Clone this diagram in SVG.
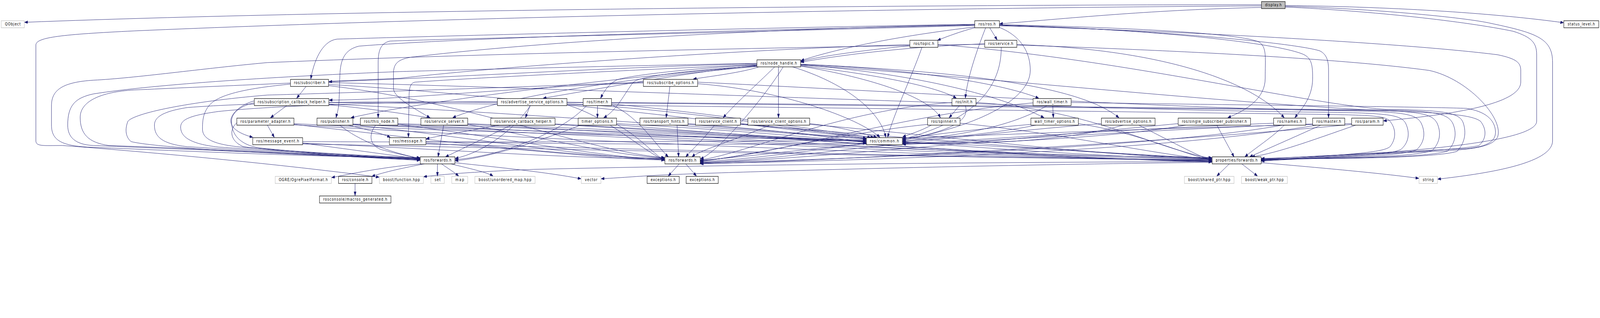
<svg xmlns="http://www.w3.org/2000/svg" width="5128" height="813" viewBox="0 0 5128 813" preserveAspectRatio="none">
<defs>
<marker id="a" markerWidth="10" markerHeight="8" refX="10" refY="3.5" orient="auto" markerUnits="userSpaceOnUse"><path d="M0,0 L10,3.5 L0,7 z" fill="#191970" stroke="#191970" stroke-width="1"/></marker>
<style>
svg{width:100vw;height:100vh}
.e path{fill:none;stroke:#191970;stroke-width:1;marker-end:url(#a)}
g.n rect{fill:#fff;stroke:#000;stroke-width:1.2}
g.x rect{fill:#fff;stroke:#bfbfbf;stroke-width:1.2}
g.r rect{fill:#bfbfbf;stroke:#000;stroke-width:1.2}
text{font-family:"DejaVu Sans","Liberation Sans",sans-serif;font-size:10.5px;fill:#000;text-anchor:middle}
</style>
</defs>
<rect width="5128" height="813" fill="#fff"/>
<g class="e" id="connectors">
<path d="M4043,12 C3200,12 1200,22 79,57"/>
<path d="M4043,19 C3700,25 3450,45 3204,61"/>
<path d="M4119,14 C4500,18 4800,35 5011,58"/>
<path d="M4119,16 C4400,22 4700,45 4780,60 C4930,85 4976,100 4976,160 L4976,360 C4976,420 4750,445 4608,458"/>
<path d="M4119,18 C4400,28 4700,55 4850,80 C4910,95 4925,110 4925,140 L4925,310 C4925,370 4400,395 4043,409"/>
<path d="M4043,15 C3000,20 1500,42 430,79 C200,88 115,95 115,115 L115,360 C115,375 140,372 200,372 C500,390 900,420 1215,453"/>
<path d="M3124,71 C3080,80 3040,92 3005,103"/>
<path d="M3172,71 L3196,102"/>
<path d="M3124,69 C2900,90 2700,120 2567,155"/>
<path d="M3159,71 C3130,130 3100,200 3094,251"/>
<path d="M3203,70 C3280,95 3302,140 3302,180 C3302,250 3150,320 2893,358"/>
<path d="M3203,63 C3600,70 4000,85 4040,110 C4060,125 4055,150 4055,200 C4055,250 4000,280 3935,301"/>
<path d="M3203,64 C3700,75 4100,110 4180,140 C4205,150 4207,170 4207,200 C4207,250 4170,280 4150,301"/>
<path d="M3203,65 C3700,75 4150,110 4230,130 C4255,140 4258,160 4258,180 L4258,301"/>
<path d="M3203,66 C3800,80 4500,110 4800,140 C4860,150 4874,160 4874,180 L4874,210 C4874,260 4700,290 4434,309"/>
<path d="M3124,62 C2500,70 1500,90 1080,100 C1030,105 1005,160 996,202"/>
<path d="M3124,64 C2500,75 1500,95 1150,118 C1098,128 1090,160 1089,200 L1087,250 C1086,280 1080,290 1077,301"/>
<path d="M3124,65 C2500,80 1500,98 1250,105 C1220,110 1212,130 1212,160 L1212,301"/>
<path d="M3124,63 C2600,70 1800,100 1330,145 C1270,150 1261,165 1261,190 L1261,225 C1261,245 1300,265 1378,301"/>
<path d="M2426,163 C2000,170 1400,200 1054,209"/>
<path d="M2426,168 C2100,190 1400,250 1125,301"/>
<path d="M2426,170 C2000,200 1600,250 1451,301"/>
<path d="M2483,171 C2420,220 2350,270 2318,301"/>
<path d="M2495,171 L2495,301"/>
<path d="M2432,171 C2380,185 2280,195 2222,202"/>
<path d="M2426,167 C2200,185 1900,230 1741,251"/>
<path d="M2426,166 C2200,175 2000,195 1975,205 C1950,215 1935,235 1925,251"/>
<path d="M2426,169 C2200,180 2050,195 2030,210 C2000,240 1980,280 1935,301"/>
<path d="M2566,168 C2800,190 3000,220 3065,251"/>
<path d="M2566,169 C2800,200 2980,250 3014,301"/>
<path d="M2566,165 C2900,175 3200,210 3329,251"/>
<path d="M2566,166 C2900,185 3200,240 3346,301"/>
<path d="M2566,164 C3000,180 3450,210 3586,301"/>
<path d="M2540,171 C2700,210 2820,280 2839,351"/>
<path d="M2426,162 C2000,168 1500,178 1281,183 C900,195 500,215 300,240 C240,250 217,270 217,320 C217,350 240,370 300,372 C700,385 1000,395 1346,406"/>
<path d="M2510,171 C2450,250 2300,390 2245,406"/>
<path d="M2426,165 C2000,180 1500,200 1330,210 C1315,212 1311,225 1311,250 L1309,351"/>
<path d="M2566,166 C3200,200 4000,270 4500,285 C4650,290 4720,295 4745,310 C4765,330 4765,355 4740,372 C4700,382 4400,395 4043,412"/>
<path d="M2916,117 C2750,130 2620,145 2567,157"/>
<path d="M2955,121 C2920,200 2860,300 2845,351"/>
<path d="M2916,114 C2400,125 1600,170 1284,200 C1000,210 650,222 430,230 C320,235 257,260 257,300 C257,340 280,365 350,372 C800,385 1100,400 1346,410"/>
<path d="M3006,114 C3600,150 4200,270 4450,280 C4650,281 4680,292 4690,315 C4700,340 4695,365 4670,387 C4600,404 4300,406 4043,406"/>
<path d="M3156,112 C2900,120 2700,140 2567,159"/>
<path d="M3209,121 C3209,200 3160,300 2893,356"/>
<path d="M3259,114 C3700,125 4000,200 4116,301"/>
<path d="M3259,115 C3800,130 4300,150 4580,180 C4700,200 4820,300 4800,350 C4780,380 4700,385 4500,390 C4300,395 4150,402 4043,407"/>
<path d="M3156,113 C2500,122 1600,135 857,160 C650,175 430,200 300,205 C200,210 165,230 165,270 L165,320 C165,360 200,372 280,376 C700,390 1000,400 1346,404"/>
<path d="M3075,270 L3042,301"/>
<path d="M3094,270 C3105,300 3080,330 2893,358"/>
<path d="M3128,262 C3500,280 3700,380 3884,405"/>
<path d="M3051,262 C2700,280 2400,390 2245,409"/>
<path d="M3374,270 L3376,301"/>
<path d="M3356,270 C3250,320 3100,345 2893,360"/>
<path d="M3311,263 C2900,290 2500,395 2245,411"/>
<path d="M3433,262 C3900,268 4500,272 4700,277 C4760,285 4790,305 4793,335 C4795,360 4770,375 4700,380 C4400,390 4200,402 4043,405"/>
<path d="M2985,320 C2950,335 2920,342 2893,350"/>
<path d="M3077,315 C3400,340 3700,395 3884,408"/>
<path d="M2973,318 C2700,340 2400,400 2245,412"/>
<path d="M3320,320 C3200,340 3000,355 2893,362"/>
<path d="M3456,316 C3650,340 3800,395 3884,410"/>
<path d="M3304,318 C2900,345 2500,405 2245,413"/>
<path d="M3600,320 C3400,365 3100,370 2893,364"/>
<path d="M3650,320 C3750,360 3830,395 3884,411"/>
<path d="M3530,316 C3000,350 2500,410 2245,415"/>
<path d="M3800,320 C3600,350 3100,372 2893,366"/>
<path d="M3900,320 L3955,401"/>
<path d="M3776,316 C3200,360 2500,410 2245,417"/>
<path d="M4116,320 C4080,350 4020,380 3990,401"/>
<path d="M4082,315 C3600,330 3100,360 2893,368"/>
<path d="M4110,320 C3700,380 2600,410 2245,416"/>
<path d="M4233,320 C4150,350 4050,385 4005,401"/>
<path d="M4207,317 C3700,330 3100,365 2893,369"/>
<path d="M4220,320 C3700,390 2700,412 2245,418"/>
<path d="M4345,320 C4200,360 4100,390 4012,401"/>
<path d="M4332,316 C3800,325 3200,345 2893,353"/>
<path d="M4332,318 C3800,360 2700,410 2245,419"/>
<path d="M1053,216 C1600,240 2500,330 2776,353"/>
<path d="M1054,266 C1700,290 2500,340 2776,355"/>
<path d="M942,316 C1500,340 2400,355 2776,357"/>
<path d="M970,362 C1600,365 2400,360 2776,359"/>
<path d="M1131,317 C1700,335 2400,355 2776,360"/>
<path d="M1275,316 C1800,330 2450,352 2776,361"/>
<path d="M1499,316 C1900,330 2500,350 2776,362"/>
<path d="M1779,317 C2100,330 2550,352 2776,363"/>
<path d="M1817,265 C2200,280 2650,340 2776,354"/>
<path d="M1960,266 C2300,290 2680,340 2790,351"/>
<path d="M1976,316 C2300,330 2600,350 2776,364"/>
<path d="M2205,316 C2450,330 2650,348 2776,365"/>
<path d="M2373,316 C2550,328 2700,345 2800,351"/>
<path d="M2595,316 C2700,325 2760,340 2810,351"/>
<path d="M2236,214 C2500,230 2750,300 2820,351"/>
<path d="M1365,362 C1900,370 2500,370 2776,366"/>
<path d="M1053,219 C1500,260 1900,390 2130,403"/>
<path d="M1054,268 C1500,300 1900,395 2130,404"/>
<path d="M942,318 C1300,350 1800,400 2130,405"/>
<path d="M970,366 C1400,380 1800,405 2130,406"/>
<path d="M1131,319 C1500,350 1900,405 2130,407"/>
<path d="M1275,318 C1600,350 1950,405 2130,408"/>
<path d="M1365,366 C1700,380 1950,408 2130,409"/>
<path d="M1817,268 C1950,300 2050,380 2130,410"/>
<path d="M1960,268 C2050,300 2100,370 2142,401"/>
<path d="M1976,318 C2050,350 2090,390 2130,411"/>
<path d="M2170,320 L2175,401"/>
<path d="M2290,320 C2250,360 2215,385 2198,401"/>
<path d="M2467,320 C2350,360 2240,385 2218,401"/>
<path d="M2777,367 C2600,380 2400,400 2245,410"/>
<path d="M2892,363 C3300,375 3700,400 3884,404"/>
<path d="M2373,318 C2900,350 3500,395 3884,405"/>
<path d="M2595,318 C3000,345 3500,398 3884,406"/>
<path d="M2205,318 C2800,355 3400,400 3884,407"/>
<path d="M1976,319 C2600,360 3300,402 3884,408"/>
<path d="M970,368 C2000,385 3200,405 3884,409"/>
<path d="M1365,368 C2200,385 3300,405 3884,410"/>
<path d="M942,319 C1800,360 3000,400 3884,411"/>
<path d="M1275,318 C2000,345 3200,400 3884,403"/>
<path d="M1131,318 C2000,350 3200,402 3884,412"/>
<path d="M1499,318 C2300,350 3300,403 3884,413"/>
<path d="M1779,318 C2500,350 3300,404 3884,414"/>
<path d="M1054,262 C2000,268 3500,285 4200,292 C4400,294 4440,296 4455,310 C4475,330 4475,355 4455,375 C4430,392 4300,395 4043,411"/>
<path d="M1053,211 C2000,230 3500,282 4250,287 C4460,289 4490,295 4505,315 C4520,340 4515,365 4490,382 C4450,398 4300,400 4043,410"/>
<path d="M2236,210 C3000,240 3800,278 4300,283 C4500,285 4540,292 4555,315 C4570,340 4565,365 4540,383 C4490,400 4300,402 4043,409"/>
<path d="M1817,262 C2800,270 3800,278 4350,282 C4560,283 4590,292 4606,315 C4620,340 4615,365 4590,385 C4530,402 4300,404 4043,408"/>
<path d="M1960,262 C2900,268 3900,277 4400,281 C4610,282 4640,292 4656,315 C4670,340 4665,365 4640,386 C4580,403 4300,405 4043,407"/>
<path d="M1422,320 L1404,401"/>
<path d="M1638,320 C1560,350 1470,385 1428,401"/>
<path d="M1700,270 C1650,330 1550,390 1459,405"/>
<path d="M1880,270 C1800,340 1600,400 1459,408"/>
<path d="M1860,320 C1700,370 1550,405 1459,411"/>
<path d="M815,263 C780,268 742,285 742,310 C742,345 770,370 830,378 C1000,392 1200,402 1346,407"/>
<path d="M931,215 C800,225 700,240 670,270 C650,290 649,310 649,330 C649,360 700,372 800,378 C1000,390 1200,400 1346,403"/>
<path d="M759,314 C735,330 735,360 780,375 C900,388 1200,405 1346,409"/>
<path d="M970,366 C1150,385 1300,402 1346,406"/>
<path d="M1089,320 C1150,360 1250,390 1346,405"/>
<path d="M1204,320 C1180,345 1185,370 1220,382 C1280,395 1320,400 1346,406"/>
<path d="M2062,210 C1600,225 1000,240 857,243 C600,260 430,290 410,310 C400,330 402,350 420,362 C500,378 900,395 1346,407"/>
<path d="M1594,262 C1200,258 800,262 600,275 C520,285 495,300 495,320 C495,350 520,368 600,375 C900,390 1200,402 1346,408"/>
<path d="M1869,262 C1400,255 900,268 700,285 C610,295 579,305 579,325 C579,350 610,368 700,376 C950,390 1200,400 1346,405"/>
<path d="M2062,212 C1700,220 1300,255 1055,256"/>
<path d="M2147,221 L2135,301"/>
<path d="M981,221 L951,251"/>
<path d="M919,270 L867,301"/>
<path d="M815,258 C780,265 745,285 740,305 C737,325 760,340 810,351"/>
<path d="M857,320 L879,351"/>
<path d="M1116,320 C1170,330 1220,340 1251,351"/>
<path d="M1600,320 C1500,335 1420,345 1366,355"/>
<path d="M1699,270 L1684,301"/>
<path d="M1915,270 L1915,301"/>
<path d="M1402,419 L1402,450"/>
<path d="M1415,419 C1435,430 1455,440 1470,450"/>
<path d="M1445,419 C1500,430 1560,440 1580,450"/>
<path d="M1458,416 C1600,428 1750,440 1862,457"/>
<path d="M1360,419 C1300,428 1230,440 1192,451"/>
<path d="M1350,419 C1250,425 1150,440 1063,454"/>
<path d="M2177,419 L2142,450"/>
<path d="M2198,419 L2232,450"/>
<path d="M3940,419 L3900,450"/>
<path d="M3980,419 L4030,450"/>
<path d="M4042,416 C4250,430 4450,445 4547,456"/>
<path d="M3885,415 C3300,420 2500,435 2135,447 C2050,450 2000,454 1927,457"/>
<path d="M3885,413 C3200,415 2400,420 1711,433 C1550,438 1420,445 1358,452"/>
<path d="M1138,469 L1138,500"/>
</g>
<g id="display_h" class="r"><rect x="4043" y="4" width="76" height="18"/><text x="4081" y="16.5" textLength="53" lengthAdjust="spacing">display.h</text></g>
<g id="QObject" class="x"><rect x="4" y="53" width="74" height="18"/><text x="41" y="65.5" textLength="50" lengthAdjust="spacing">QObject</text></g>
<g id="ros_ros_h" class="n"><rect x="3124" y="53" width="79" height="18"/><text x="3163.5" y="65.5" textLength="55" lengthAdjust="spacing">ros/ros.h</text></g>
<g id="status_level_h" class="n"><rect x="5012" y="53" width="112" height="18"/><text x="5068" y="65.5" textLength="87" lengthAdjust="spacing">status_level.h</text></g>
<g id="ros_topic_h" class="n"><rect x="2916" y="103" width="90" height="18"/><text x="2961" y="115.5" textLength="66" lengthAdjust="spacing">ros/topic.h</text></g>
<g id="ros_service_h" class="n"><rect x="3156" y="103" width="103" height="18"/><text x="3207.5" y="115.5" textLength="80" lengthAdjust="spacing">ros/service.h</text></g>
<g id="ros_node_handle_h" class="n"><rect x="2426" y="153" width="140" height="18"/><text x="2496" y="165.5" textLength="116" lengthAdjust="spacing">ros/node_handle.h</text></g>
<g id="ros_subscriber_h" class="n"><rect x="931" y="203" width="122" height="18"/><text x="992" y="215.5" textLength="100" lengthAdjust="spacing">ros/subscriber.h</text></g>
<g id="ros_subscribe_options_h" class="n"><rect x="2062" y="203" width="174" height="18"/><text x="2149" y="215.5" textLength="150" lengthAdjust="spacing">ros/subscribe_options.h</text></g>
<g id="ros_subscription_callback_helper_h" class="n"><rect x="815" y="252" width="239" height="18"/><text x="934.5" y="264.5" textLength="217" lengthAdjust="spacing">ros/subscription_callback_helper.h</text></g>
<g id="ros_advertise_service_options_h" class="n"><rect x="1594" y="252" width="223" height="18"/><text x="1705.5" y="264.5" textLength="200" lengthAdjust="spacing">ros/advertise_service_options.h</text></g>
<g id="ros_timer_h" class="n"><rect x="1869" y="252" width="91" height="18"/><text x="1914.5" y="264.5" textLength="68" lengthAdjust="spacing">ros/timer.h</text></g>
<g id="ros_init_h" class="n"><rect x="3051" y="252" width="77" height="18"/><text x="3089.5" y="264.5" textLength="54" lengthAdjust="spacing">ros/init.h</text></g>
<g id="ros_wall_timer_h" class="n"><rect x="3311" y="252" width="122" height="18"/><text x="3372" y="264.5" textLength="98" lengthAdjust="spacing">ros/wall_timer.h</text></g>
<g id="ros_parameter_adapter_h" class="n"><rect x="759" y="302" width="183" height="18"/><text x="850.5" y="314.5" textLength="160" lengthAdjust="spacing">ros/parameter_adapter.h</text></g>
<g id="ros_publisher_h" class="n"><rect x="1016" y="302" width="115" height="18"/><text x="1073.5" y="314.5" textLength="92" lengthAdjust="spacing">ros/publisher.h</text></g>
<g id="ros_this_node_h" class="n"><rect x="1155" y="302" width="120" height="18"/><text x="1215" y="314.5" textLength="97" lengthAdjust="spacing">ros/this_node.h</text></g>
<g id="ros_service_server_h" class="n"><rect x="1349" y="302" width="150" height="18"/><text x="1424" y="314.5" textLength="126" lengthAdjust="spacing">ros/service_server.h</text></g>
<g id="ros_service_callback_helper_h" class="n"><rect x="1573" y="302" width="206" height="18"/><text x="1676" y="314.5" textLength="182" lengthAdjust="spacing">ros/service_callback_helper.h</text></g>
<g id="timer_options_h" class="n"><rect x="1853" y="302" width="123" height="18"/><text x="1914.5" y="314.5" textLength="100" lengthAdjust="spacing">timer_options.h</text></g>
<g id="ros_transport_hints_h" class="n"><rect x="2051" y="302" width="154" height="18"/><text x="2128" y="314.5" textLength="131" lengthAdjust="spacing">ros/transport_hints.h</text></g>
<g id="ros_service_client_h" class="n"><rect x="2229" y="302" width="144" height="18"/><text x="2301" y="314.5" textLength="121" lengthAdjust="spacing">ros/service_client.h</text></g>
<g id="ros_service_client_options_h" class="n"><rect x="2397" y="302" width="198" height="18"/><text x="2496" y="314.5" textLength="175" lengthAdjust="spacing">ros/service_client_options.h</text></g>
<g id="ros_spinner_h" class="n"><rect x="2973" y="302" width="104" height="18"/><text x="3025" y="314.5" textLength="81" lengthAdjust="spacing">ros/spinner.h</text></g>
<g id="wall_timer_options_h" class="n"><rect x="3304" y="302" width="152" height="18"/><text x="3380" y="314.5" textLength="129" lengthAdjust="spacing">wall_timer_options.h</text></g>
<g id="ros_advertise_options_h" class="n"><rect x="3530" y="302" width="172" height="18"/><text x="3616" y="314.5" textLength="148" lengthAdjust="spacing">ros/advertise_options.h</text></g>
<g id="ros_single_subscriber_publisher_h" class="n"><rect x="3776" y="302" width="232" height="18"/><text x="3892" y="314.5" textLength="208" lengthAdjust="spacing">ros/single_subscriber_publisher.h</text></g>
<g id="ros_names_h" class="n"><rect x="4082" y="302" width="103" height="18"/><text x="4133.5" y="314.5" textLength="79" lengthAdjust="spacing">ros/names.h</text></g>
<g id="ros_master_h" class="n"><rect x="4207" y="302" width="103" height="18"/><text x="4258.5" y="314.5" textLength="79" lengthAdjust="spacing">ros/master.h</text></g>
<g id="ros_param_h" class="n"><rect x="4332" y="302" width="101" height="18"/><text x="4382.5" y="314.5" textLength="77" lengthAdjust="spacing">ros/param.h</text></g>
<g id="ros_message_event_h" class="n"><rect x="810" y="352" width="160" height="18"/><text x="890" y="364.5" textLength="137" lengthAdjust="spacing">ros/message_event.h</text></g>
<g id="ros_message_h" class="n"><rect x="1248" y="352" width="117" height="18"/><text x="1306.5" y="364.5" textLength="94" lengthAdjust="spacing">ros/message.h</text></g>
<g id="ros_common_h" class="n"><rect x="2777" y="352" width="115" height="18"/><text x="2834.5" y="364.5" textLength="93" lengthAdjust="spacing">ros/common.h</text></g>
<g id="ros_forwards_h_1" class="n"><rect x="1347" y="401" width="111" height="18"/><text x="1402.5" y="413.5" textLength="89" lengthAdjust="spacing">ros/forwards.h</text></g>
<g id="ros_forwards_h_2" class="n"><rect x="2131" y="401" width="113" height="18"/><text x="2187.5" y="413.5" textLength="89" lengthAdjust="spacing">ros/forwards.h</text></g>
<g id="properties_forwards_h" class="n"><rect x="3885" y="401" width="157" height="18"/><text x="3963.5" y="413.5" textLength="134" lengthAdjust="spacing">properties/forwards.h</text></g>
<g id="OGRE_OgrePixelFormat_h" class="x"><rect x="882" y="451" width="180" height="18"/><text x="972" y="463.5" textLength="157" lengthAdjust="spacing">OGRE/OgrePixelFormat.h</text></g>
<g id="ros_console_h" class="n"><rect x="1085" y="451" width="107" height="18"/><text x="1138.5" y="463.5" textLength="84" lengthAdjust="spacing">ros/console.h</text></g>
<g id="boost_function_hpp" class="x"><rect x="1216" y="451" width="141" height="18"/><text x="1286.5" y="463.5" textLength="118" lengthAdjust="spacing">boost/function.hpp</text></g>
<g id="set" class="x"><rect x="1381" y="451" width="43" height="18"/><text x="1402.5" y="463.5" textLength="19" lengthAdjust="spacing">set</text></g>
<g id="map" class="x"><rect x="1448" y="451" width="51" height="18"/><text x="1473.5" y="463.5" textLength="28" lengthAdjust="spacing">map</text></g>
<g id="boost_unordered_map_hpp" class="x"><rect x="1522" y="451" width="193" height="18"/><text x="1618.5" y="463.5" textLength="169" lengthAdjust="spacing">boost/unordered_map.hpp</text></g>
<g id="vector" class="x"><rect x="1863" y="451" width="63" height="18"/><text x="1894.5" y="463.5" textLength="40" lengthAdjust="spacing">vector</text></g>
<g id="exceptions_h_1" class="n"><rect x="2074" y="451" width="103" height="18"/><text x="2125.5" y="463.5" textLength="80" lengthAdjust="spacing">exceptions.h</text></g>
<g id="exceptions_h_2" class="n"><rect x="2199" y="451" width="103" height="18"/><text x="2250.5" y="463.5" textLength="80" lengthAdjust="spacing">exceptions.h</text></g>
<g id="boost_shared_ptr_hpp" class="x"><rect x="3796" y="451" width="159" height="18"/><text x="3875.5" y="463.5" textLength="135" lengthAdjust="spacing">boost/shared_ptr.hpp</text></g>
<g id="boost_weak_ptr_hpp" class="x"><rect x="3979" y="451" width="147" height="18"/><text x="4052.5" y="463.5" textLength="123" lengthAdjust="spacing">boost/weak_ptr.hpp</text></g>
<g id="string" class="x"><rect x="4548" y="451" width="59" height="18"/><text x="4577.5" y="463.5" textLength="35" lengthAdjust="spacing">string</text></g>
<g id="rosconsole_macros_generated_h" class="n"><rect x="1024" y="501" width="229" height="18"/><text x="1138.5" y="513.5" textLength="205" lengthAdjust="spacing">rosconsole/macros_generated.h</text></g>
</svg>
